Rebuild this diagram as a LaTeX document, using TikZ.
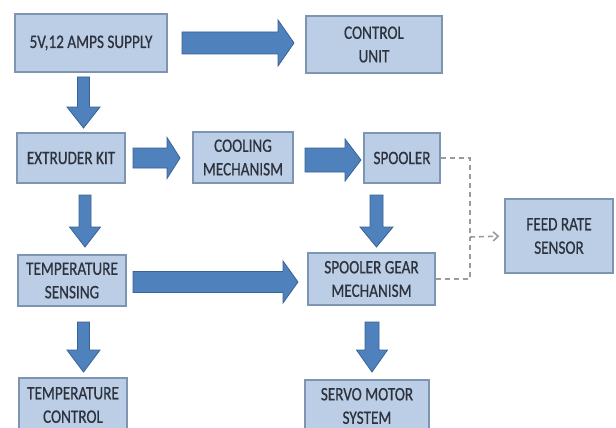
\documentclass[tikz,border=0pt]{standalone}
\usepackage{fontspec}
\setmainfont[FakeStretch=0.8,FakeBold=0.6]{Carlito}
\usetikzlibrary{arrows.meta}
\definecolor{boxfill}{RGB}{187,206,230}
\definecolor{boxline}{RGB}{125,148,178}
\definecolor{arrfill}{RGB}{79,129,189}
\definecolor{arrline}{RGB}{58,98,150}
\definecolor{txt}{RGB}{45,50,60}
\definecolor{dashcol}{RGB}{155,155,155}
\tikzset{
  blk/.style={fill=arrfill,draw=arrline,line width=0.8pt,line join=miter},
  box/.style={rectangle,fill=boxfill,draw=boxline,line width=1.3pt,inner sep=0pt,
    align=center,text=txt,font=\fontsize{19}{23.5}\selectfont},
  dsh/.style={draw=dashcol,line width=1.6pt,dash pattern=on 5pt off 4pt},
}
% horizontal block arrow: x1, x2(tip), yc, shaft half, head half, head length
\newcommand\hblk[6]{\filldraw[blk] (#1,#3-#4) -- (#2-#6,#3-#4) -- (#2-#6,#3-#5) -- (#2,#3) -- (#2-#6,#3+#5) -- (#2-#6,#3+#4) -- (#1,#3+#4) -- cycle;}
% vertical block arrow: xc, y1, y2(tip), shaft half, head half, head length
\newcommand\vblk[6]{\filldraw[blk] (#1-#4,#2) -- (#1+#4,#2) -- (#1+#4,#3-#6) -- (#1+#5,#3-#6) -- (#1,#3) -- (#1-#5,#3-#6) -- (#1-#4,#3-#6) -- cycle;}
\begin{document}
\begin{tikzpicture}[x=1pt,y=-1pt]
\useasboundingbox (0,0) rectangle (616,428);
\clip (0,0) rectangle (616,428);
\fill[white] (0,0) rectangle (616,428);

\node[box,minimum width=152pt,minimum height=58pt] (supply) at (91,43) {5V,12 AMPS SUPPLY};
\node[box,minimum width=136pt,minimum height=57pt] (control) at (374,44.5) {CONTROL\\UNIT};
\node[box,minimum width=108pt,minimum height=50pt] (extruder) at (71,158) {EXTRUDER KIT};
\node[box,minimum width=100pt,minimum height=51pt] (cooling) at (243,157.5) {COOLING\\MECHANISM};
\node[box,minimum width=76pt,minimum height=50pt] (spooler) at (402,158) {SPOOLER};
\node[box,minimum width=108pt,minimum height=74pt] (feed) at (559,236) {FEED RATE\\SENSOR};
\node[box,minimum width=108pt,minimum height=51pt] (tsense) at (72,280.5) {TEMPERATURE\\SENSING};
\node[box,minimum width=127pt,minimum height=52pt] (gear) at (371.5,279) {SPOOLER GEAR\\MECHANISM};
\node[box,minimum width=108pt,minimum height=54pt] (tctrl) at (73,405) {TEMPERATURE\\CONTROL};
\node[box,minimum width=124pt,minimum height=52pt] (servo) at (367,406) {SERVO MOTOR\\SYSTEM};

% block arrows
\hblk{182}{294}{43}{11}{23}{16}
\hblk{133}{180}{158}{10}{20.5}{13}
\hblk{305}{361}{160}{12}{21}{16}
\hblk{133}{298}{282}{10.5}{21}{15}
\vblk{83.5}{77}{128}{6}{16.5}{21}
\vblk{85}{195}{247}{6}{15.5}{20}
\vblk{376.5}{195}{247}{6.5}{16.5}{20}
\vblk{83.5}{322}{372}{6}{16.5}{22}
\vblk{372}{322}{372}{7}{15.5}{22}

% dashed connections
\coordinate (j) at (470,237);
\draw[dsh] (spooler.east) -| (j);
\draw[dsh] (gear.east) -| (j);
\draw[dsh,-{Straight Barb[length=5pt,width=9pt]},shorten >=5pt] (j) -- (feed.west);
\end{tikzpicture}
\end{document}
